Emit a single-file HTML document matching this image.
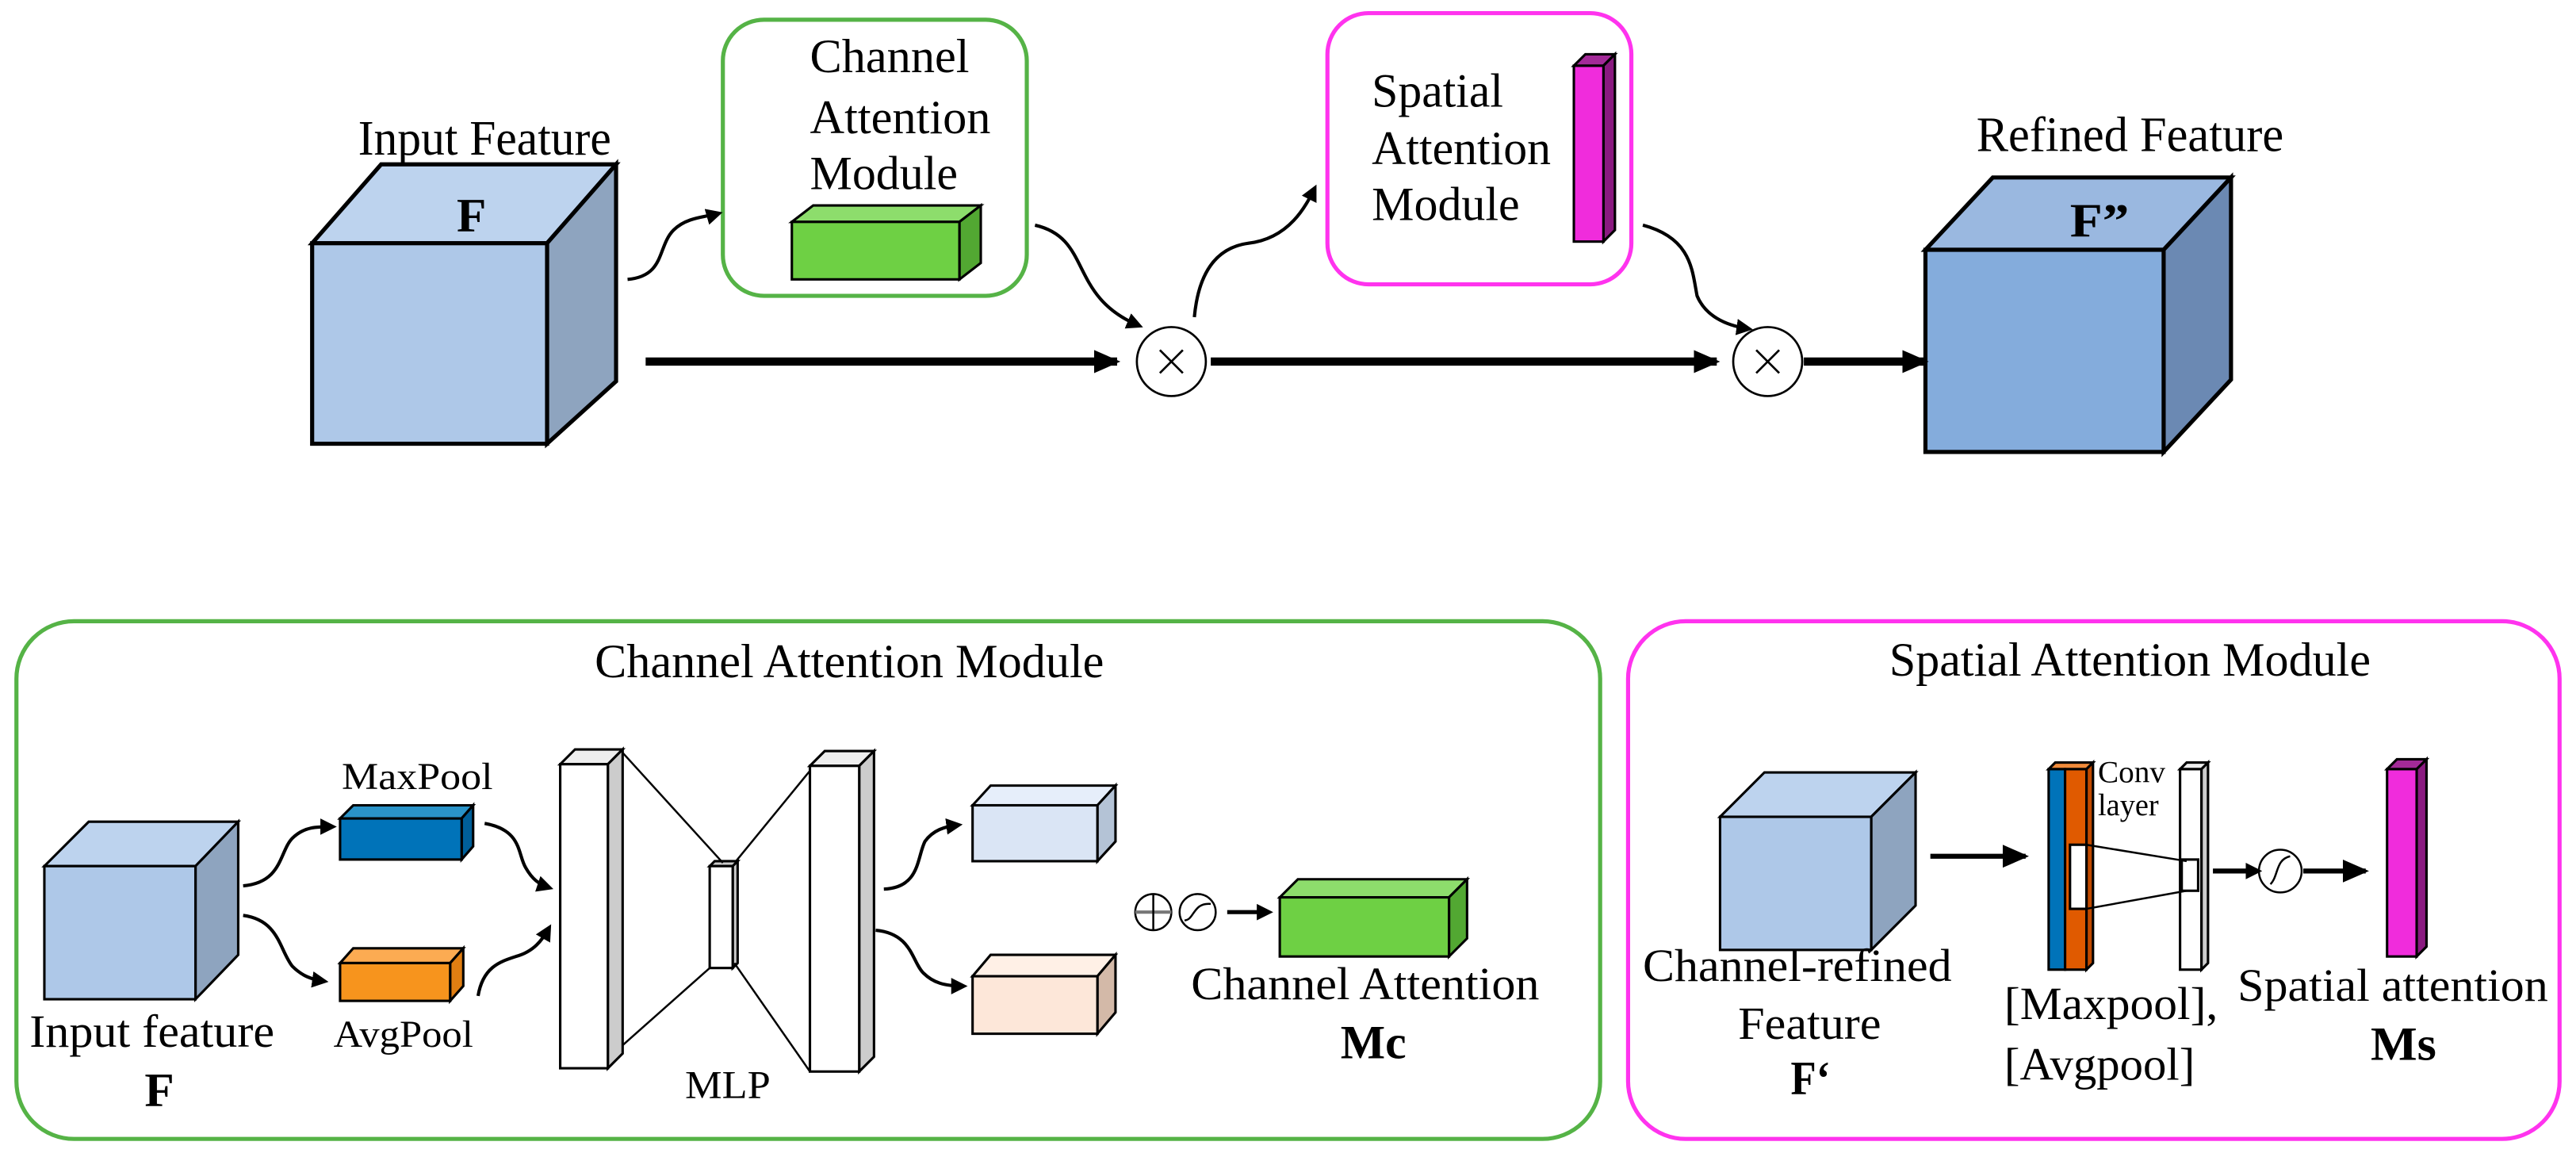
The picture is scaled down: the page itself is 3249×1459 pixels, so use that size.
<!DOCTYPE html>
<html><head><meta charset="utf-8"><style>
html,body{margin:0;padding:0;background:#fff}
svg{display:block}
text{font-family:"Liberation Serif",serif;fill:#000}
</style></head><body>
<svg width="3249" height="1459" viewBox="0 0 1568 704" preserveAspectRatio="none" xmlns="http://www.w3.org/2000/svg">
<defs>
<marker id="ah" markerWidth="10" markerHeight="10" refX="7" refY="5" orient="auto" markerUnits="userSpaceOnUse"><path d="M0,0 L10,5 L0,10 z" fill="#000"/></marker>
<marker id="ab" markerWidth="16" markerHeight="16" refX="14" refY="8" orient="auto" markerUnits="userSpaceOnUse"><path d="M0,1 L16,8 L0,15 z" fill="#000"/></marker>
</defs>
<g stroke="#000" stroke-width="2.5" stroke-linejoin="miter">
<polygon points="190,148 232,100 375,100 333,148" fill="#bdd3ee"/>
<polygon points="333,148 375,100 375,232 333,270" fill="#8ea4bf"/>
<rect x="190" y="148" width="143" height="122" fill="#aec8e8"/>
<polygon points="1172,152 1213,108 1358,108 1317,152" fill="#9ab8e0"/>
<polygon points="1317,152 1358,108 1358,231 1317,275" fill="#6b89b3"/>
<rect x="1172" y="152" width="145" height="123" fill="#84acdc"/>
</g>
<rect x="440" y="12" width="185" height="168" rx="25" fill="none" stroke="#55b346" stroke-width="2.5"/>
<rect x="808" y="8" width="185" height="165" rx="25" fill="none" stroke="#ff33ee" stroke-width="2.5"/>
<g stroke="#000" stroke-width="1.5">
<polygon points="482,135 495,125 597,125 584,135" fill="#8ddd6c"/>
<polygon points="584,135 597,125 597,160 584,170" fill="#52a832"/>
<rect x="482" y="135" width="102" height="35" fill="#6ed044"/>
<polygon points="958,40 965,33 983,33 976,40" fill="#a32a98"/>
<polygon points="976,40 983,33 983,140 976,147" fill="#8a1a80"/>
<rect x="958" y="40" width="18" height="107" fill="#f02cdc"/>
</g>
<text x="278" y="141" font-size="29" font-weight="bold" textLength="18" lengthAdjust="spacingAndGlyphs">F</text>
<text x="1260" y="144" font-size="29" font-weight="bold" textLength="36" lengthAdjust="spacingAndGlyphs">F”</text>
<text x="218" y="94" font-size="30" textLength="154" lengthAdjust="spacingAndGlyphs">Input Feature</text>
<text x="1203" y="92" font-size="30" textLength="187" lengthAdjust="spacingAndGlyphs">Refined Feature</text>
<text x="493" y="44" font-size="29" textLength="97" lengthAdjust="spacingAndGlyphs">Channel</text>
<text x="493" y="81" font-size="29" textLength="110" lengthAdjust="spacingAndGlyphs">Attention</text>
<text x="493" y="115" font-size="29" textLength="90" lengthAdjust="spacingAndGlyphs">Module</text>
<text x="835" y="65" font-size="29" textLength="80" lengthAdjust="spacingAndGlyphs">Spatial</text>
<text x="835" y="100" font-size="29" textLength="109" lengthAdjust="spacingAndGlyphs">Attention</text>
<text x="835" y="134" font-size="29" textLength="90" lengthAdjust="spacingAndGlyphs">Module</text>
<g stroke="#000" fill="none">
<line x1="393" y1="220" x2="680" y2="220" stroke-width="5" marker-end="url(#ab)"/>
<line x1="737" y1="220" x2="1045" y2="220" stroke-width="5" marker-end="url(#ab)"/>
<line x1="1098" y1="220" x2="1172" y2="220" stroke-width="5" marker-end="url(#ab)"/>
<path d="M382,170 C405,168 400,150 410,140 C418,132 430,132 437,130" stroke-width="2" marker-end="url(#ah)"/>
<path d="M630,137 C665,145 650,180 693,198" stroke-width="2" marker-end="url(#ah)"/>
<path d="M727,193 C730,160 745,150 760,148 C785,145 795,125 800,115" stroke-width="2" marker-end="url(#ah)"/>
<path d="M1000,137 C1030,145 1030,165 1033,180 C1038,192 1050,198 1064,200" stroke-width="2" marker-end="url(#ah)"/>
</g>
<g stroke="#000" stroke-width="1.3" fill="#fff">
<ellipse cx="713" cy="220" rx="21" ry="21"/>
<ellipse cx="1076" cy="220" rx="21" ry="21"/>
</g>
<g stroke="#000" stroke-width="1.3">
<line x1="706" y1="213" x2="720" y2="227"/><line x1="720" y1="213" x2="706" y2="227"/>
<line x1="1069" y1="213" x2="1083" y2="227"/><line x1="1083" y1="213" x2="1069" y2="227"/>
</g>
<rect x="10" y="378" width="964" height="315" rx="35" fill="none" stroke="#55b346" stroke-width="2.5"/>
<rect x="991" y="378" width="567" height="315" rx="35" fill="none" stroke="#ff33ee" stroke-width="2.5"/>
<text x="362" y="412" font-size="29" textLength="310" lengthAdjust="spacingAndGlyphs">Channel Attention Module</text>
<text x="1150" y="411" font-size="29" textLength="293" lengthAdjust="spacingAndGlyphs">Spatial Attention Module</text>
<g stroke="#000" stroke-width="1.5">
<polygon points="27,527 54,500 145,500 119,527" fill="#bdd3ee"/>
<polygon points="119,527 145,500 145,581 119,608" fill="#8ea4bf"/>
<rect x="27" y="527" width="92" height="81" fill="#aec8e8"/>
<polygon points="207,498 215,490 288,490 281,498" fill="#2a93c8"/>
<polygon points="281,498 288,490 288,515 281,523" fill="#005f99"/>
<rect x="207" y="498" width="74" height="25" fill="#0073b9"/>
<polygon points="207,586 215,577 282,577 274,586" fill="#fcab52"/>
<polygon points="274,586 282,577 282,600 274,609" fill="#e07e12"/>
<rect x="207" y="586" width="67" height="23" fill="#f7941d"/>
<polygon points="341,465 350,456 379,456 370,465" fill="#eee"/>
<polygon points="370,465 379,456 379,641 370,650" fill="#ccc"/>
<rect x="341" y="465" width="29" height="185" fill="#fff"/>
<polygon points="432,527 435,524 449,524 446,527" fill="#ccc"/>
<polygon points="446,527 449,524 449,586 446,589" fill="#ccc"/>
<rect x="432" y="527" width="14" height="62" fill="#fff"/>
<polygon points="493,466 502,457 532,457 523,466" fill="#eee"/>
<polygon points="523,466 532,457 532,643 523,652" fill="#ccc"/>
<rect x="493" y="466" width="30" height="186" fill="#fff"/>
<polygon points="592,490 603,478 679,478 668,490" fill="#e6eefa"/>
<polygon points="668,490 679,478 679,512 668,524" fill="#b4c3d6"/>
<rect x="592" y="490" width="76" height="34" fill="#dae5f5"/>
<polygon points="592,594 603,581 679,581 668,594" fill="#fff0e6"/>
<polygon points="668,594 679,581 679,616 668,629" fill="#d3b9a8"/>
<rect x="592" y="594" width="76" height="35" fill="#fde7d9"/>
<polygon points="779,546 790,535 893,535 882,546" fill="#8ddd6c"/>
<polygon points="882,546 893,535 893,571 882,582" fill="#52a832"/>
<rect x="779" y="546" width="103" height="36" fill="#6ed044"/>
<polygon points="1047,497 1074,470 1166,470 1139,497" fill="#bdd3ee"/>
<polygon points="1139,497 1166,470 1166,551 1139,578" fill="#8ea4bf"/>
<rect x="1047" y="497" width="92" height="81" fill="#aec8e8"/>
<polygon points="1247,468 1251,464 1274,464 1270,468" fill="#f08a3a"/>
<polygon points="1270,468 1274,464 1274,586 1270,590" fill="#c04a00"/>
<rect x="1247" y="468" width="10" height="122" fill="#0073b9"/>
<rect x="1257" y="468" width="13" height="122" fill="#e05a00"/>
<polygon points="1327,468 1331,464 1344,464 1340,468" fill="#eee"/>
<polygon points="1340,468 1344,464 1344,586 1340,590" fill="#ccc"/>
<rect x="1327" y="468" width="13" height="122" fill="#fff"/>
<rect x="1260" y="514" width="10" height="39" fill="#fff"/>
<rect x="1328" y="523" width="10" height="19" fill="#fff"/>
<polygon points="1453,468 1459,462 1477,462 1471,468" fill="#a32a98"/>
<polygon points="1471,468 1477,462 1477,576 1471,582" fill="#8a1a80"/>
<rect x="1453" y="468" width="18" height="114" fill="#f02cdc"/>
</g>
<g stroke="#000" stroke-width="1.2" fill="none">
<line x1="379" y1="458" x2="440" y2="525"/><line x1="379" y1="636" x2="432" y2="589"/>
<line x1="448" y1="524" x2="493" y2="469"/><line x1="447" y1="586" x2="493" y2="652"/>
<line x1="1270" y1="514" x2="1331" y2="524"/><line x1="1270" y1="553" x2="1331" y2="542"/>
</g>
<g stroke="#000" fill="none" stroke-width="2">
<path d="M148,539 C172,537 170,518 178,510 C185,503 193,503 202,503" marker-end="url(#ah)"/>
<path d="M148,557 C170,560 170,578 178,588 C184,594 190,596 197,597" marker-end="url(#ah)"/>
<path d="M295,501 C318,505 315,520 320,528 C324,535 328,538 334,540" marker-end="url(#ah)"/>
<path d="M291,606 C294,588 305,585 314,582 C325,579 330,572 334,565" marker-end="url(#ah)"/>
<path d="M538,541 C560,540 558,522 563,512 C568,505 575,503 583,502" marker-end="url(#ah)"/>
<path d="M533,566 C555,568 555,585 562,592 C568,598 575,600 586,600" marker-end="url(#ah)"/>
<line x1="747" y1="555" x2="772" y2="555" stroke-width="2.5" marker-end="url(#ah)"/>
<line x1="1175" y1="521" x2="1233" y2="521" stroke-width="3" marker-end="url(#ab)"/>
<line x1="1347" y1="530" x2="1374" y2="530" stroke-width="3" marker-end="url(#ah)"/>
<line x1="1402" y1="530" x2="1440" y2="530" stroke-width="3" marker-end="url(#ab)"/>
</g>
<g stroke="#000" stroke-width="1.2" fill="none">
<circle cx="702" cy="555" r="11"/>
<line x1="691" y1="555" x2="713" y2="555" stroke="#777" stroke-width="2"/>
<line x1="702" y1="544" x2="702" y2="566"/>
<circle cx="729" cy="555" r="11"/>
<path d="M721,560 C727,560 726,549 737,550"/>
<circle cx="1388" cy="530" r="13"/>
<path d="M1382,538 C1387,533 1385,523 1394,521"/>
</g>
<text x="208" y="480" font-size="23" textLength="92" lengthAdjust="spacingAndGlyphs">MaxPool</text>
<text x="203" y="637" font-size="23" textLength="85" lengthAdjust="spacingAndGlyphs">AvgPool</text>
<text x="417" y="668" font-size="24" textLength="52" lengthAdjust="spacingAndGlyphs">MLP</text>
<text x="18" y="637" font-size="28" textLength="149" lengthAdjust="spacingAndGlyphs">Input feature</text>
<text x="88" y="673" font-size="29" font-weight="bold" textLength="18" lengthAdjust="spacingAndGlyphs">F</text>
<text x="725" y="608" font-size="28" textLength="212" lengthAdjust="spacingAndGlyphs">Channel Attention</text>
<text x="816" y="644" font-size="29" font-weight="bold" textLength="40" lengthAdjust="spacingAndGlyphs">Mc</text>
<text x="1000" y="597" font-size="28" textLength="188" lengthAdjust="spacingAndGlyphs">Channel-refined</text>
<text x="1058" y="632" font-size="28" textLength="87" lengthAdjust="spacingAndGlyphs">Feature</text>
<text x="1090" y="666" font-size="29" font-weight="bold" textLength="24" lengthAdjust="spacingAndGlyphs">F‘</text>
<text x="1277" y="476" font-size="19" textLength="41" lengthAdjust="spacingAndGlyphs">Conv</text>
<text x="1277" y="496" font-size="19" textLength="37" lengthAdjust="spacingAndGlyphs">layer</text>
<text x="1220" y="620" font-size="28" textLength="130" lengthAdjust="spacingAndGlyphs">[Maxpool],</text>
<text x="1220" y="657" font-size="28" textLength="116" lengthAdjust="spacingAndGlyphs">[Avgpool]</text>
<text x="1362" y="609" font-size="28" textLength="189" lengthAdjust="spacingAndGlyphs">Spatial attention</text>
<text x="1443" y="645" font-size="29" font-weight="bold" textLength="40" lengthAdjust="spacingAndGlyphs">Ms</text>
</svg>
</body></html>
